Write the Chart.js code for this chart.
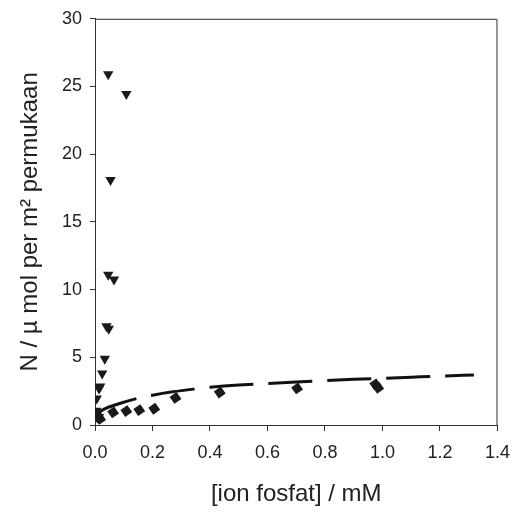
<!DOCTYPE html>
<html>
<head>
<meta charset="utf-8">
<script src="https://cdn.jsdelivr.net/npm/chart.js@4/dist/chart.umd.min.js"></script>
<style>
  html, body { margin: 0; padding: 0; background: #fff; }
  #wrap { width: 521px; height: 514px; }
</style>
</head>
<body>
<div id="wrap"><canvas id="adsorpsi-chart"></canvas></div>
<script>
// triangles (series 1)
const triX = [0.046, 0.109, 0.054, 0.046, 0.066, 0.040, 0.048, 0.034, 0.025, 0.018, 0.014, 0.006, 0.005, 0.008, 0.014];
const triY = [25.9, 24.45, 18.1, 11.1, 10.75, 7.3, 7.1, 4.9, 3.8, 2.85, 2.7, 1.95, 1.05, 0.85, 0.6];
// diamonds (series 2)
const diaX = [0.004, 0.012, 0.018, 0.063, 0.109, 0.154, 0.206, 0.280, 0.434, 0.703, 0.975, 0.985];
const diaY = [0.75, 0.55, 0.45, 0.93, 1.03, 1.10, 1.20, 2.00, 2.40, 2.70, 3.00, 2.75];
// dashed fit curve
const fitX = [0.003, 0.03, 0.08, 0.144, 0.2, 0.27, 0.343, 0.4, 0.5, 0.6, 0.7, 0.8, 0.9, 1.0, 1.1, 1.2, 1.318];
const fitY = [0.75, 1.15, 1.55, 1.95, 2.2, 2.45, 2.65, 2.78, 2.95, 3.07, 3.18, 3.28, 3.37, 3.45, 3.53, 3.61, 3.70];
const xTicks = [0, 0.2, 0.4, 0.6, 0.8, 1.0, 1.2, 1.4];
const yTicks = [0, 5, 10, 15, 20, 25, 30];

function pts(xs, ys) {
    return xs.map(function (x, i) { return { x: x, y: ys[i] }; });
}

const axisColor = '#333';
const textColor = '#222';
const font = 'Arial, "Liberation Sans", sans-serif';

// top and right border of the frame
const frame = {
    id: 'frame',
    afterDraw: function (chart) {
        const a = chart.chartArea;
        const c = chart.ctx;
        c.save();
        c.strokeStyle = axisColor;
        c.lineWidth = 1;
        c.beginPath();
        c.moveTo(a.left, a.top + 0.5);
        c.lineTo(a.right - 0.5, a.top + 0.5);
        c.lineTo(a.right - 0.5, a.bottom);
        c.stroke();
        c.restore();
    }
};

const ctx = document.getElementById('adsorpsi-chart').getContext('2d');
new Chart(ctx, {
    type: 'scatter',
    data: {
        datasets: [
            {
                label: 'segitiga',
                data: pts(triX, triY),
                pointStyle: 'triangle',
                rotation: 180,
                pointRadius: 6,
                backgroundColor: '#1a1a1a',
                borderColor: '#1a1a1a',
                borderWidth: 0
            },
            {
                label: 'belah ketupat',
                data: pts(diaX, diaY),
                pointStyle: 'rectRot',
                rotation: 10,
                pointRadius: 6,
                backgroundColor: '#1a1a1a',
                borderColor: '#1a1a1a',
                borderWidth: 0
            },
            {
                label: 'fit',
                data: pts(fitX, fitY),
                showLine: true,
                borderColor: '#111',
                borderWidth: 3,
                borderDash: [44, 15],
                pointRadius: 0,
                cubicInterpolationMode: 'monotone',
                fill: false
            }
        ]
    },
    options: {
        responsive: true,
        maintainAspectRatio: false,
        animation: false,
        layout: { padding: { left: 0, right: 18, top: 16, bottom: 0 } },
        plugins: {
            legend: { display: false },
            tooltip: { enabled: false }
        },
        scales: {
            x: {
                type: 'linear',
                min: 0,
                max: 1.4,
                afterFit: function (s) { s.height = 89; },
                afterBuildTicks: function (s) { s.ticks = xTicks.map(function (v) { return { value: v }; }); },
                ticks: {
                    color: textColor,
                    font: { family: font, size: 18 },
                    padding: 11,
                    maxRotation: 0,
                    callback: function (v) { return v.toFixed(1); }
                },
                grid: { display: true, drawOnChartArea: false, drawTicks: true, tickLength: 6, color: axisColor },
                border: { display: true, color: axisColor, width: 1 },
                title: {
                    display: true,
                    text: '[ion fosfat] / mM',
                    color: textColor,
                    font: { family: font, size: 24 },
                    padding: { top: 0, bottom: 5 }
                }
            },
            y: {
                type: 'linear',
                min: 0,
                max: 30,
                afterFit: function (s) { s.width = 95; },
                afterBuildTicks: function (s) { s.ticks = yTicks.map(function (v) { return { value: v }; }); },
                ticks: {
                    color: textColor,
                    font: { family: font, size: 18 },
                    padding: 8
                },
                grid: { display: true, drawOnChartArea: false, drawTicks: true, tickLength: 5, color: axisColor },
                border: { display: true, color: axisColor, width: 1 },
                title: {
                    display: true,
                    text: 'N / µ mol per m² permukaan',
                    color: textColor,
                    font: { family: font, size: 24 },
                    padding: { top: 16, bottom: 0 }
                }
            }
        }
    },
    plugins: [frame]
});
</script>
</body>
</html>
